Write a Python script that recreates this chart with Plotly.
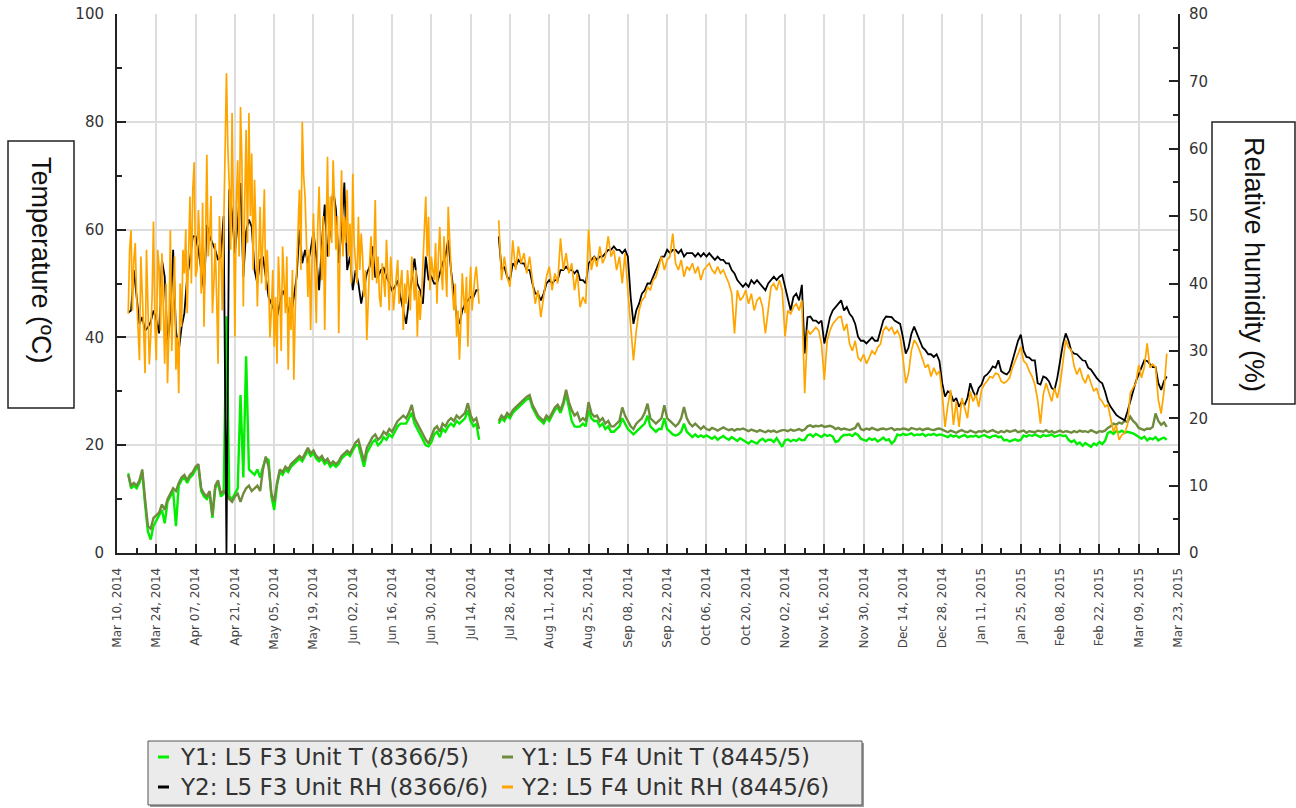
import pandas as pd
import plotly.graph_objects as go

# ---------------- data (one value per day from 2014-03-14) ----------------
start_day = "2014-03-14"

temp_f3 = [  # Y1: L5 F3 Unit T (8366/5)  [deg C]
    14.8, 12, 12.5, 12, 13, 15, 9, 4, 2.5, 5,
    6, 7, 8, 5.5, 9.5, 10.5, 11.5, 5, 12.5, 13.5,
    14, 13, 14, 14.5, 15.5, 16, 11.5, 10.5, 10, 11,
    6.5, 12, 13, 10.5, 11, 43.9, 10.5, 10, 11, 12,
    29.3, 14, 36.5, 15.5, 15, 14.5, 15.5, 14, 16, 17.5,
    17.3, 10.5, 8, 12.5, 15, 14.5, 15.5, 15, 16, 16.5,
    17, 17.5, 17, 18, 19, 18, 18.5, 17.5, 17, 17.5,
    16.5, 17, 16, 16.5, 16, 16.5, 17.5, 18, 18.5, 18,
    19, 20, 20, 18, 16, 18.5, 19.5, 20.5, 21, 20,
    20.5, 21.5, 21, 22, 21.5, 22.5, 23.5, 24, 24, 24,
    25, 26, 24, 23, 22, 21, 20, 19.8, 20.5, 22,
    22.5, 21.5, 23, 22.5, 23.5, 24, 23.5, 24.5, 24, 24.5,
    25, 26.5, 24.5, 23.5, 24, 21, None, None, None, None,
    None, None, 24, 25, 24.5, 25.5, 25, 26, 26.5, 27,
    27.5, 28, 28.5, 28.8, 27, 26, 25, 24.5, 24, 25,
    24.5, 25.5, 26.5, 27, 26, 27.5, 29.5, 27, 24.5, 23.5,
    23.4, 23.5, 24, 23.5, 26.5, 25, 24.5, 24.5, 23.5, 24,
    23, 23.5, 22.5, 22.5, 23, 23.5, 25, 24, 23, 22.5,
    22, 22.5, 23, 23.5, 24, 25.5, 23.5, 23, 22.5, 23,
    23, 25, 23, 22.5, 22, 21.8, 22, 22.5, 24, 22.5,
    22, 21.5, 22, 21.5, 21.8, 21.5, 21.8, 21.5, 21.2, 21.6,
    21, 21.4, 21.7, 21.3, 21, 21.5, 21.2, 20.8, 21.3, 21,
    20.6, 20.3, 20.8, 20.5, 20.3, 20.9, 21.2, 20.7, 21, 21,
    20.6, 21.3, 20.5, 19.7, 20.9, 21.1, 20.7, 21, 20.8, 21.2,
    20.9, 21, 21.8, 22, 21.6, 22.1, 21.8, 21.5, 22, 21.7,
    21.9, 21.6, 20.6, 20.8, 21.5, 21.9, 21.9, 22, 21.7, 22.2,
    21.9, 21.2, 21, 20.8, 21.3, 21, 21.2, 20.7, 21, 21.4,
    20.9, 21.1, 20.3, 20.8, 22, 21.8, 22.1, 21.9, 22, 22.2,
    21.8, 22, 21.9, 22.1, 21.7, 22, 21.9, 22.1, 21.8, 22,
    21.9, 21.7, 21.5, 21.9, 21.6, 21.8, 21.4, 21.7, 21.9, 21.5,
    21.7, 21.6, 21.8, 21.5, 21.7, 21.9, 21.6, 21.4, 21.7, 21.8,
    21.5, 21.6, 20.9, 21, 20.7, 20.9, 21.1, 20.8, 21, 21.8,
    21.6, 21.9, 21.7, 22, 21.8, 21.5, 21.9, 21.7, 21.8, 22,
    21.6, 21.8, 21.9, 21.7, 21.8, 21, 20.6, 20.9, 20.2, 20.5,
    19.9, 20.4, 20.1, 19.7, 20.3, 20, 20.6, 20.2, 20.8, 22.3,
    22.5, 22.1, 22.6, 22.4, 22.7, 22.3, 22.5, 22.4, 22.2, 21.9,
    21.5, 21.2, 21.6, 20.9, 21.3, 21.1, 21.5, 20.9, 21.2, 21.4,
    21,
]

temp_f4 = [  # Y1: L5 F4 Unit T (8445/5)  [deg C]
    14.5, 12.5, 13, 12.5, 13.5, 15.5, 10, 5, 4.5, 6.5,
    7, 7.5, 9, 8, 10, 11, 12, 11.5, 13, 14,
    14.5, 13.5, 14.5, 15, 16, 16.5, 12, 11, 10.5, 11.5,
    7, 12.5, 13.5, 11, 11.5, 11, 10, 9.5, 10.5, 11,
    9.5, 11, 12, 12.5, 11.5, 12, 12.5, 11.5, 15.5, 17.9,
    16, 11, 9.5, 13, 15.5, 15, 16, 15.5, 16.5, 17,
    17.5, 18, 17.5, 18.5, 19.5, 18.5, 19, 18, 17.5, 18,
    17, 17.5, 16.5, 17, 16.5, 17, 18, 18.5, 19, 18.5,
    19.5, 20.5, 21, 19, 17, 19.5, 20.5, 21.5, 22, 21,
    21.5, 22.5, 22, 23, 22.5, 23.5, 24.5, 25, 25.5, 25,
    26, 27.5, 25, 24, 23, 22, 21, 20.3, 21.5, 23,
    23.5, 22.5, 24, 23.5, 24.5, 25, 24.5, 25.5, 25, 25.5,
    26, 27.8, 25.5, 24.5, 25, 23, None, None, None, None,
    None, None, 24.5, 25.5, 25, 26, 25.5, 26.5, 27, 27.5,
    28, 28.5, 29, 29.3, 27.5, 26.5, 25.5, 25, 24.5, 25.5,
    25, 26, 27, 27.5, 26.5, 28, 30.3, 28, 26.5, 25.5,
    26, 24.5, 25, 24.5, 28, 26, 25.3, 25.5, 24.5, 25,
    24, 24.5, 23.5, 23.5, 24, 24.5, 27, 25.5, 24.5, 23.5,
    23, 24, 24.5, 25, 26, 27.7, 25, 24.5, 24, 24.5,
    25, 27.4, 25, 24.5, 24, 23.5, 24, 25, 27.1, 25,
    24, 23.5, 24, 23.5, 23, 23.5, 23, 22.8, 23.2, 23,
    22.7, 23, 23.3, 23, 22.8, 23, 22.7, 23, 22.9, 23.1,
    22.8, 22.6, 22.9, 22.7, 22.5, 22.8, 22.6, 22.4, 22.7, 22.5,
    22.7, 22.4, 22.6, 22.8, 22.8, 22.6, 22.9, 22.7, 22.8, 23,
    22.7, 22.9, 23.5, 23.7, 23.4, 23.6, 23.5, 23.7, 23.4, 23.5,
    23.6, 23.4, 23, 23.2, 22.9, 23.1, 23, 22.8, 23, 23.2,
    24.1, 23, 22.8, 23.1, 22.9, 23.2, 23, 22.8, 23, 23.1,
    22.9, 23, 23.2, 22.8, 23, 22.9, 23.1, 23, 22.8, 23.2,
    23, 22.9, 23.1, 22.8, 23, 23.1, 22.9, 22.8, 23, 23.1,
    22.9, 22.6, 22.4, 22.7, 22.5, 22.3, 22.6, 22.8, 22.5, 22.4,
    22.7, 22.5, 22.3, 22.6, 22.5, 22.7, 22.4, 22.6, 22.8, 22.5,
    22.3, 22.6, 22.4, 22.7, 22.5, 22.6, 22.8, 22.4, 22.5, 22.7,
    22.3, 22.6, 22.5, 22.4, 22.7, 22.6, 22.5, 22.8, 22.4, 22.6,
    22.3, 22.5, 22.7, 22.4, 22.6, 22.5, 22.3, 22.6, 22.4, 22.7,
    22.5, 22.6, 22.4, 22.8, 22.5, 22.3, 22.6, 22.5, 22.7, 23.2,
    23.5, 24, 23.8, 24.2, 24, 24.5, 24.3, 25.3, 24.5, 24,
    23.2, 23, 22.8, 23.1, 23, 23.4, 25.9, 24.5, 23.8, 24.2,
    23.4,
]

rh_f3 = [  # Y2: L5 F3 Unit RH (8366/6)  [%]
    35.7, 36, 42, 38, 34, 35, 33, 33.5, 34.3, 36,
    34.6, 32.6, 43.5, 41, 31, 35.1, 45, 33, 30, 33.5,
    35.6, 41, 43.5, 47, 47, 45, 42, 39, 48.7, 47,
    46, 45, 43.5, 44, 50, 0, 54, 50.4, 44.5, 49,
    54.9, 41, 47.7, 49.5, 48.4, 42, 40, 43.5, 44, 41,
    38, 37, 36, 35, 37, 39, 38, 36, 35, 38,
    41, 48, 43, 45, 43, 45, 47.7, 44, 39, 46,
    51.7, 44, 48, 54, 51, 43, 48, 55, 42, 44,
    39, 42, 40, 37, 39, 41.5, 42.5, 45.5, 41, 41,
    42, 42.3, 41, 40, 39, 39.5, 40.5, 38, 36, 34,
    37.5, 41, 43.7, 40, 39, 37, 44, 40.5, 41, 40,
    40, 41.5, 43, 44, 46.5, 42, 38, 35, 34, 36,
    37, 37.5, 38, 38, 39, 39, None, None, None, None,
    None, None, 47, 42, 42.5, 41, 40.5, 43, 42.5, 43.5,
    43, 43, 42, 42, 40, 38.5, 38.5, 37.5, 38.5, 40,
    40.5, 40, 40.5, 40.5, 42, 42, 42.5, 42, 42, 41.5,
    42, 40.5, 40.5, 40, 43, 43.5, 44, 43.5, 44, 44,
    44.5, 45, 45, 45.5, 45, 45, 44.5, 45, 44, 38,
    34, 36, 37, 38.5, 39, 40, 40, 41, 42, 43,
    44, 44, 45, 44.5, 45, 45, 44.5, 45, 44, 44.5,
    44.5, 44.5, 44, 44.5, 44, 44.5, 44, 44.5, 44, 43.5,
    44, 43.5, 43.5, 43, 43, 42, 41.5, 40.5, 40, 39.5,
    40, 39.5, 40.5, 40, 40.5, 40, 39.5, 39, 40, 40.5,
    41, 40.5, 41, 41.3, 39.5, 38, 36, 38, 38.5, 37.5,
    39.8, 29.6, 35, 35.1, 34.5, 34.5, 34.1, 34.5, 31.1, 33,
    35, 36, 36.5, 37, 37.5, 36, 36.5, 35.5, 35, 34,
    32.1, 31.5, 31.5, 31.1, 31.5, 32, 31.5, 31.5, 33, 34.5,
    35.1, 35, 35, 34.5, 34.3, 34, 32, 29.6, 30.5, 32.5,
    33.6, 32.5, 31.5, 30.5, 30.1, 29.5, 29.5, 29.1, 29.5, 28.5,
    25.2, 23.2, 24, 23.7, 22.5, 23, 21.7, 22.5, 22, 23,
    25.2, 24, 23.2, 24.5, 25, 26.2, 26.5, 27, 27.7, 27.5,
    28.6, 27, 26.7, 26.5, 27, 28.5, 30, 31.5, 32.4, 30,
    29.1, 29, 28.6, 28.6, 25.2, 25, 26.2, 26, 25.5, 24.5,
    24.2, 26, 28.5, 31, 32.6, 31.5, 30, 29.6, 29.5, 29,
    28.6, 28.5, 27.5, 27.2, 26.5, 26, 25.5, 25.2, 24, 22.5,
    21.7, 21, 20.5, 20.2, 20, 19.7, 21, 22.5, 24.2, 25.5,
    26.5, 27.5, 28.6, 28.5, 28, 27.6, 27.6, 25.2, 24.2, 25.5,
    26.2,
]

rh_f4 = [  # Y2: L5 F4 Unit RH (8445/6)  [%], midnight readings
    35.5, 47.9, 43.5, 38, 28.6, 39.5, 26.7, 37, 32, 49.2,
    28.6, 42.5, 44.5, 28.1, 25.2, 47.9, 38.5, 27.2, 23.7, 33.6,
    41.5, 35.6, 52.9, 53.9, 41, 50.9, 38.5, 33.6, 59.1, 47.4,
    35.6, 46, 28.1, 44.5, 47.4, 71.2, 54.4, 65.3, 32.1, 58.3,
    66.2, 36.6, 62.8, 65.3, 59.3, 55.4, 36.6, 51.4, 48.4, 39,
    40.5, 36, 30.6, 28.1, 39, 45.5, 35.6, 27.2, 33.1, 25.7,
    41.5, 53.9, 64, 52.9, 38, 33.1, 50.4, 34.1, 54.4, 40.5,
    33.1, 58.8, 52.9, 58.3, 45, 32.6, 56.8, 49.9, 53.9, 48.9,
    56.3, 43, 49.9, 47.4, 38, 31.6, 43, 40.5, 52.4, 44,
    36.5, 40.5, 46.5, 36, 41, 38, 43.5, 40, 33.1, 37,
    39.5, 44, 37.5, 32.1, 34.6, 43, 52.9, 49.9, 44, 40.5,
    37, 48.4, 39, 43, 51.4, 42, 36, 32.1, 28.7, 41.5,
    35.6, 30.6, 42.5, 39, 42.5, 37, None, None, None, None,
    None, None, 49.4, 40.5, 44, 41, 39.5, 46.4, 42, 45.5,
    43, 44.5, 41.5, 44, 40.5, 37, 39, 35, 38, 41,
    42.5, 39, 41.5, 40, 46.7, 42, 44.5, 41.5, 43, 39,
    41.5, 36.5, 38, 37, 48, 42, 44, 42.5, 45.5, 43,
    44, 47, 44, 45, 42, 44, 40, 44.5, 39, 34,
    28.6, 33, 36, 37.5, 38, 39.5, 39, 40.5, 41, 42.5,
    44, 42, 43.5, 44, 47.4, 43, 42, 43.5, 41, 42.5,
    42, 43, 41.5, 42.5, 40.5, 42, 42.5, 43, 42, 41.5,
    42.5, 41.5, 42, 41, 40, 38.5, 32.6, 39, 37.5, 38,
    39, 37, 38.5, 36, 37.5, 38, 36.5, 32.6, 36, 39.5,
    40, 39, 40.5, 39, 32.1, 36, 35.5, 36.5, 37, 36,
    37.5, 23.7, 33.1, 32.5, 33, 33.5, 33, 31, 25.7, 31.5,
    33, 34, 34.5, 35, 35.1, 33, 34, 31, 30, 31.5,
    29, 28.5, 29.5, 28.1, 29, 30, 29.5, 30.5, 31, 33,
    33.6, 33, 33.5, 32.5, 33, 32.1, 29, 25.2, 26.7, 30,
    31.6, 31, 30, 28.6, 27.5, 28, 26.2, 27.5, 26.5, 27,
    23.7, 18.7, 22, 24.2, 19, 22.5, 18.7, 23, 21.5, 20,
    24, 22.5, 23.5, 21.7, 24.2, 25, 25.5, 26.2, 26, 26.7,
    26.5, 25.5, 25.2, 25.5, 26, 27.5, 28.5, 29.5, 30.6, 28.5,
    28.1, 27, 26.2, 25, 22.7, 19.2, 23.5, 25.2, 24, 22.5,
    24.5, 23, 25, 28, 31.6, 30.5, 30.1, 27.7, 26.5, 27.5,
    26, 25.2, 26.5, 25.2, 24, 24.5, 23, 22.5, 21.7, 22,
    19.7, 18, 19, 16.8, 17.5, 17.8, 19, 23.7, 24.5, 25.2,
    27.9, 26, 27.6, 31.1, 27.5, 28, 27.6, 22.7, 20.7, 24,
    29.6,
]

rh_f4_noon = [  # Y2: L5 F4 Unit RH (8445/6)  [%], midday readings, 2014-03-14 .. 2014-07-16
    45, 36, 46, 33, 44, 33, 45, 28, 38, 34,
    45, 33, 38, 40, 33, 30, 44, 32, 40, 45,
    48, 44, 40, 58, 42, 46, 52, 45, 44, 53,
    40, 38, 50, 36, 58, 60, 45, 50, 52, 44,
    58, 52, 46, 50, 42, 48, 44, 40, 54, 45,
    32, 42, 38, 44, 30, 40, 44, 38, 42, 36,
    46, 42, 56, 46, 45, 44, 42, 48, 46, 50,
    47, 44, 46, 52, 50, 46, 44, 46, 44, 40,
    46, 40, 42, 44, 42, 38, 47, 44, 40, 38,
    43, 38, 41, 44, 36, 41, 37, 42, 40, 42,
    36, 40, 42, 39, 38, 46, 44, 39, 42, 46,
    44, 42, 47, 38, 45, 39, 40, 36, 34, 38,
    41, 38, 36, 41, 40,
]

tick_labels = [
    "Mar 10, 2014", "Mar 24, 2014", "Apr 07, 2014", "Apr 21, 2014", "May 05, 2014",
    "May 19, 2014", "Jun 02, 2014", "Jun 16, 2014", "Jun 30, 2014", "Jul 14, 2014",
    "Jul 28, 2014", "Aug 11, 2014", "Aug 25, 2014", "Sep 08, 2014", "Sep 22, 2014",
    "Oct 06, 2014", "Oct 20, 2014", "Nov 02, 2014", "Nov 16, 2014", "Nov 30, 2014",
    "Dec 14, 2014", "Dec 28, 2014", "Jan 11, 2015", "Jan 25, 2015", "Feb 08, 2015",
    "Feb 22, 2015", "Mar 09, 2015", "Mar 23, 2015",
]

series_names = [
    "Y1: L5 F3 Unit T (8366/5)",
    "Y1: L5 F4 Unit T (8445/5)",
    "Y2: L5 F3 Unit RH (8366/6)",
    "Y2: L5 F4 Unit RH (8445/6)",
]
series_colors = ["#00ee00", "#6f8b3d", "#000000", "#ffa500"]
series_widths = [2.4, 2.4, 1.8, 1.7]

for s in (temp_f3, temp_f4, rh_f3, rh_f4):
    assert len(s) == len(temp_f3), len(s)

dates = pd.date_range(start_day, periods=len(temp_f3), freq="D")
tick_dates = pd.date_range("2014-03-10", periods=len(tick_labels), freq="14D")
minor_dates = pd.date_range("2014-03-17", periods=len(tick_labels) - 1, freq="14D")

# orange series: midnight readings plus the midday readings of the first months
or_x, or_y = [], []
for k, d in enumerate(dates):
    or_x.append(d)
    or_y.append(rh_f4[k])
    if k < len(rh_f4_noon):
        or_x.append(d + pd.Timedelta(hours=12))
        or_y.append(rh_f4_noon[k])

# ---------------- figure ----------------
W, H = 1296, 808
PLOT_L, PLOT_T, PLOT_R, PLOT_B = 117, 14, 1178, 553   # plot box, window pixels
PW, PH = PLOT_R - PLOT_L, PLOT_B - PLOT_T
L, T = PLOT_L, PLOT_T
R, B = W - L - PW, H - T - PH


def pxx(x):
    return (x - PLOT_L) / PW


def pxy(y):
    return (PLOT_B - y) / PH


fig = go.Figure()
data_sets = [(dates, temp_f3, "y"), (dates, temp_f4, "y"), (dates, rh_f3, "y2"), (or_x, or_y, "y2")]
for (xs, vals, ax), name, col, wd in zip(data_sets, series_names, series_colors, series_widths):
    fig.add_trace(go.Scatter(
        x=xs, y=vals, yaxis=ax, name=name, mode="lines",
        line=dict(color=col, width=wd), connectgaps=False, showlegend=False,
    ))

axis_font = dict(family="DejaVu Sans", size=15, color="#333333")
fig.update_layout(
    width=W, height=H,
    margin=dict(l=L, r=R, t=T, b=B, pad=0, autoexpand=False),
    paper_bgcolor="white", plot_bgcolor="white",
    xaxis=dict(
        type="date", range=[tick_dates[0], tick_dates[-1]], automargin=False,
        tickmode="array", tickvals=list(tick_dates), ticktext=tick_labels,
        tickangle=-90, tickfont=dict(family="DejaVu Sans", size=12, color="#444444"),
        ticks="inside", ticklen=9, tickwidth=1.5, tickcolor="#222222",
        showgrid=True, gridcolor="#dddddd", gridwidth=2,
        showline=True, linecolor="#222222", linewidth=2,
        zeroline=False, ticklabelstandoff=8, ticklabeloverflow="allow",
        minor=dict(tickmode="array", tickvals=list(minor_dates), ticks="inside",
                   ticklen=5, tickcolor="#222222", showgrid=False),
    ),
    yaxis=dict(
        range=[0, 100], tickmode="linear", tick0=0, dtick=20, automargin=False,
        tickfont=axis_font, ticks="inside", ticklen=9, tickwidth=1.5, tickcolor="#222222",
        showgrid=True, gridcolor="#dddddd", gridwidth=2,
        showline=True, linecolor="#222222", linewidth=2, zeroline=False,
        ticklabelstandoff=8, ticklabeloverflow="allow",
        minor=dict(dtick=10, ticks="inside", ticklen=5, tickcolor="#222222", showgrid=False),
    ),
    yaxis2=dict(
        range=[0, 80], overlaying="y", side="right", tickmode="linear", tick0=0, dtick=10,
        automargin=False,
        tickfont=axis_font, ticks="inside", ticklen=9, tickwidth=1.5, tickcolor="#222222",
        showgrid=False, showline=True, linecolor="#222222", linewidth=2, zeroline=False,
        ticklabelstandoff=6, ticklabeloverflow="allow",
        minor=dict(dtick=5, ticks="inside", ticklen=5, tickcolor="#222222", showgrid=False),
    ),
    showlegend=False,
)

shapes = []
annotations = []
title_font = dict(family="Liberation Sans", size=27, color="#111111")

# axis title boxes
shapes.append(dict(type="rect", xref="paper", yref="paper",
                   x0=pxx(8), x1=pxx(74), y0=pxy(408), y1=pxy(141),
                   line=dict(color="#222222", width=1.5), fillcolor="white", layer="above"))
annotations.append(dict(xref="paper", yref="paper", x=pxx(41), y=pxy(260),
                        text="Temperature (ºC)", textangle=90, showarrow=False,
                        font=title_font, xanchor="center", yanchor="middle"))
shapes.append(dict(type="rect", xref="paper", yref="paper",
                   x0=pxx(1212), x1=pxx(1295), y0=pxy(404), y1=pxy(122),
                   line=dict(color="#222222", width=1.5), fillcolor="white", layer="above"))
annotations.append(dict(xref="paper", yref="paper", x=pxx(1254), y=pxy(264),
                        text="Relative humidity (%)", textangle=90, showarrow=False,
                        font=title_font, xanchor="center", yanchor="middle"))

# legend box
shapes.append(dict(type="rect", xref="paper", yref="paper",
                   x0=pxx(150), x1=pxx(864), y0=pxy(807), y1=pxy(743),
                   line=dict(width=0), fillcolor="#9a9a9a", layer="above"))
shapes.append(dict(type="rect", xref="paper", yref="paper",
                   x0=pxx(148), x1=pxx(862), y0=pxy(805), y1=pxy(741),
                   line=dict(color="#555555", width=1), fillcolor="#ebebeb", layer="above"))
legend_font = dict(family="DejaVu Sans", size=23, color="#333333")
col_x = [(158, 178), (502, 519)]
row_y = [757, 787]
positions = [(0, 0), (0, 1), (1, 0), (1, 1)]  # (row, col)
for (r, c), name, col in zip(positions, series_names, series_colors):
    dx, tx = col_x[c]
    yy = row_y[r]
    shapes.append(dict(type="line", xref="paper", yref="paper",
                       x0=pxx(dx), x1=pxx(dx + 11), y0=pxy(yy), y1=pxy(yy),
                       line=dict(color=col, width=3), layer="above"))
    annotations.append(dict(xref="paper", yref="paper", x=pxx(tx), y=pxy(yy),
                            text=name, showarrow=False, font=legend_font,
                            xanchor="left", yanchor="middle"))

fig.update_layout(shapes=shapes, annotations=annotations)
fig.write_html("out.html", config={"displayModeBar": False},
               post_script="document.body.style.margin='0px';")
